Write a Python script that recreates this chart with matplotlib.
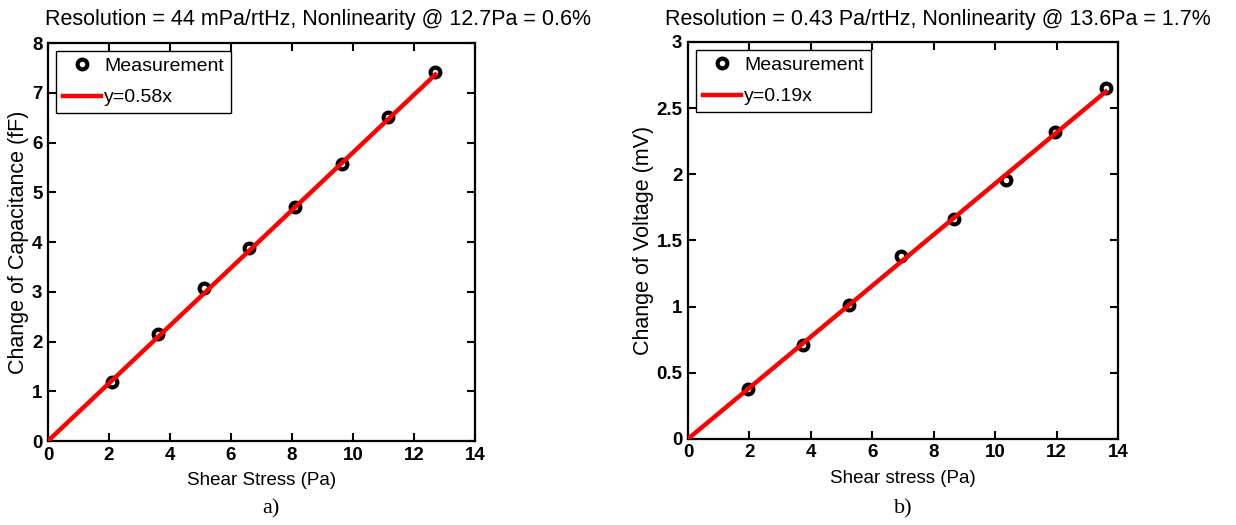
import numpy as np
import matplotlib
matplotlib.use('Agg')
import matplotlib.pyplot as plt

plt.rcParams['font.family'] = ['Liberation Sans', 'DejaVu Sans']

# panel a) capacitance
stress_a = [2.1, 3.6, 5.1, 6.6, 8.1, 9.65, 11.15, 12.7]
cap_a = [1.18, 2.15, 3.08, 3.88, 4.70, 5.57, 6.52, 7.42]
slope_a = 0.58
# panel b) voltage
stress_b = [1.97, 3.75, 5.25, 6.95, 8.65, 10.35, 11.95, 13.6]
volt_b = [0.38, 0.71, 1.01, 1.38, 1.66, 1.96, 2.32, 2.65]
slope_b = 0.193

fig = plt.figure(figsize=(12.36, 5.25), dpi=100)
ax1 = fig.add_axes([0.0388, 0.160, 0.3455, 0.758])
ax2 = fig.add_axes([0.5566, 0.164, 0.348, 0.756])

def panel(ax, xs, ys, k, fitlabel, ylim, yticks, ylab, xlab):
    ax.plot(xs, ys, 'o', mfc='white', mec='black', mew=3, ms=7, label='Measurement', zorder=3)
    xf = np.array([0, xs[-1]])
    ax.plot(xf, k * xf, '-', color='red', lw=3.2, label=fitlabel, zorder=4)
    ax.set_xlim(0, 14)
    ax.set_ylim(*ylim)
    ax.set_xticks(np.arange(0, 15, 2))
    ax.set_yticks(yticks)
    ax.set_yticklabels(['%g' % t for t in yticks])
    ax.tick_params(direction='in', top=True, right=True, length=6, width=1.5,
                   labelsize=13.5, pad=4)
    for lb in ax.get_xticklabels() + ax.get_yticklabels():
        lb.set_fontweight('bold')
    for s in ax.spines.values():
        s.set_linewidth(1.6)
    ax.set_xlabel(xlab, fontsize=13.5, labelpad=6)
    ax.set_ylabel(ylab, fontsize=15.5, labelpad=2)
    leg = ax.legend(loc='upper left', fontsize=14, fancybox=False, framealpha=1,
                    edgecolor='black', handlelength=2.0, handletextpad=0.15,
                    labelspacing=0.7, borderaxespad=0.4, borderpad=0.35)
    leg.get_frame().set_linewidth(1.0)

panel(ax1, stress_a, cap_a, slope_a, 'y=0.58x', (0, 8), np.arange(0, 9, 1),
      'Change of Capacitance (fF)', 'Shear Stress (Pa)')
panel(ax2, stress_b, volt_b, slope_b, 'y=0.19x', (0, 3), np.arange(0, 3.01, 0.5),
      'Change of Voltage (mV)', 'Shear stress (Pa)')

fig.text(0.257, 0.962, 'Resolution = 44 mPa/rtHz, Nonlinearity @ 12.7Pa = 0.6%',
         ha='center', va='center', fontsize=15.5)
fig.text(0.759, 0.962, 'Resolution = 0.43 Pa/rtHz, Nonlinearity @ 13.6Pa = 1.7%',
         ha='center', va='center', fontsize=15.5)

fig.text(0.219, 0.030, 'a)', ha='center', va='center', family='Liberation Serif', fontsize=16)
fig.text(0.731, 0.030, 'b)', ha='center', va='center', family='Liberation Serif', fontsize=16)

fig.savefig('out.png', dpi=100)
